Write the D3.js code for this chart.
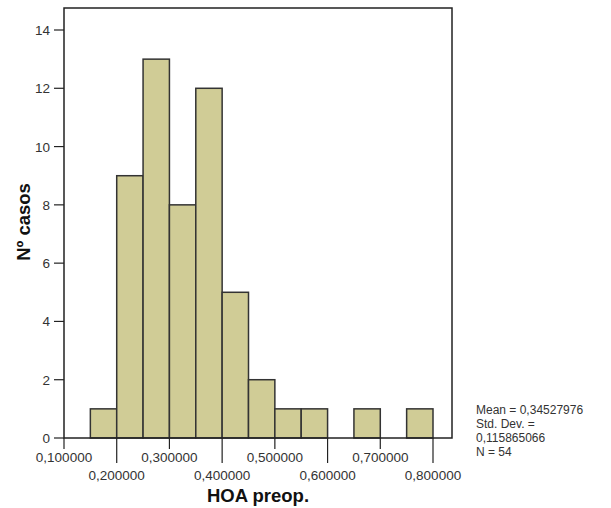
<!DOCTYPE html>
<html><head><meta charset="utf-8">
<script src="https://cdn.jsdelivr.net/npm/d3@7"></script>
<style>body{margin:0;background:#fff;} text{font-family:"Liberation Sans",Arial,sans-serif;}</style>
</head><body>
<svg id="c" width="611" height="508"></svg>
<script>
const binStarts = [0.15,0.20,0.25,0.30,0.35,0.40,0.45,0.50,0.55,0.60,0.65,0.70,0.75];
const counts    = [1,9,13,8,12,5,2,1,1,0,1,0,1];
const binWidth = 0.05;
const xTicks = [0.1,0.2,0.3,0.4,0.5,0.6,0.7,0.8];
const xTickLabels = ["0,100000","0,200000","0,300000","0,400000","0,500000","0,600000","0,700000","0,800000"];
const yTicks = [0,2,4,6,8,10,12,14];
const statsLines = ["Mean = 0,34527976","Std. Dev. =","0,115865066","N = 54"];

const svg = d3.select("#c");
const L=64, R=452, T=8, B=438;
const x = d3.scaleLinear().domain([0.1,0.8]).range([L,433]);
const y = d3.scaleLinear().domain([0,14]).range([B,30]);

// bars
svg.append("g").selectAll("rect").data(binStarts.map((s,i)=>({s,c:counts[i]})).filter(d=>d.c>0))
  .join("rect")
  .attr("x",d=>x(d.s)).attr("width",d=>x(d.s+binWidth)-x(d.s))
  .attr("y",d=>y(d.c)).attr("height",d=>B-y(d.c))
  .attr("fill","#d0cc96").attr("stroke","#333").attr("stroke-width",1.5);

// frame
svg.append("rect").attr("x",L).attr("y",T).attr("width",R-L).attr("height",B-T)
  .attr("fill","none").attr("stroke","#222").attr("stroke-width",1.5);

// y axis
const ya = svg.append("g");
yTicks.forEach(v=>{
  ya.append("line").attr("x1",54).attr("x2",L).attr("y1",y(v)).attr("y2",y(v)).attr("stroke","#222").attr("stroke-width",1.2);
  ya.append("text").attr("x",50).attr("y",y(v)+5).attr("text-anchor","end").attr("font-size",13.5).attr("fill","#333").text(v);
});

// x axis
const xa = svg.append("g");
xTicks.forEach((v,i)=>{
  const long = i%2===1;
  xa.append("line").attr("x1",x(v)).attr("x2",x(v)).attr("y1",B).attr("y2",long?463:449).attr("stroke","#222").attr("stroke-width",1.2);
  xa.append("text").attr("x",x(v)).attr("y",long?480:462).attr("text-anchor","middle").attr("font-size",13.5).attr("fill","#333").text(xTickLabels[i]);
});

// titles
svg.append("text").attr("x",(L+R)/2).attr("y",502).attr("text-anchor","middle").attr("font-size",18.5).attr("font-weight","bold").attr("fill","#111").text("HOA preop.");
svg.append("text").attr("transform","translate(30,222) rotate(-90)").attr("text-anchor","middle").attr("font-size",18.5).attr("font-weight","bold").attr("fill","#111").text("Nº casos");

// stats
statsLines.forEach((s,i)=>{
  svg.append("text").attr("x",476).attr("y",414+i*14).attr("font-size",12).attr("fill","#333").text(s);
});
</script>
</body></html>
